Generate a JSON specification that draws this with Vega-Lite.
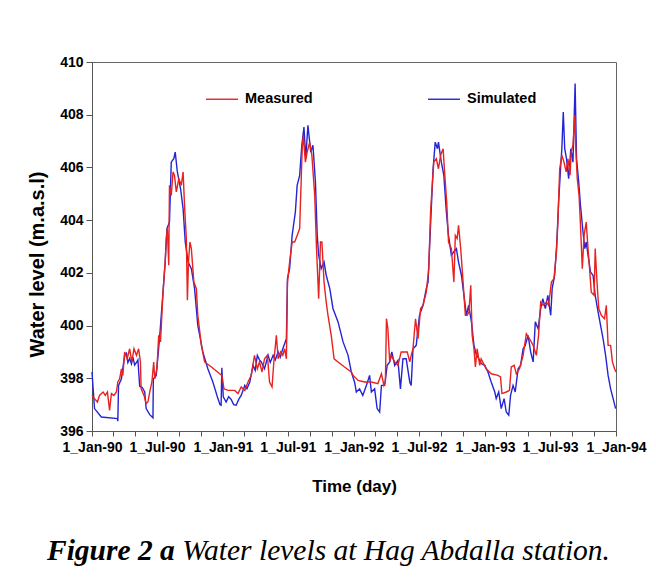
{
  "$schema": "https://vega.github.io/schema/vega-lite/v6.json",
  "autosize": {"type": "none"},
  "width": 524,
  "height": 369,
  "padding": {"left": 92, "top": 62, "right": 40, "bottom": 150},
  "background": "white",
  "config": {
    "view": {"stroke": "#666666", "strokeWidth": 1},
    "font": "Liberation Sans"
  },
  "title": {
    "text": "Figure 2 a",
    "subtitle": "\u200b\u00a0\u00a0\u00a0\u00a0\u00a0\u00a0\u00a0\u00a0\u00a0\u00a0\u00a0\u00a0\u00a0\u00a0\u00a0\u00a0\u00a0\u00a0\u200aWater levels at Hag Abdalla station.",
    "orient": "bottom",
    "anchor": "start",
    "frame": "group",
    "dx": -45,
    "offset": 43,
    "font": "Liberation Serif",
    "fontSize": 29.5,
    "fontStyle": "italic",
    "fontWeight": "bold",
    "color": "black",
    "subtitleFont": "Liberation Serif",
    "subtitleFontSize": 29.5,
    "subtitleFontStyle": "italic",
    "subtitleFontWeight": "normal",
    "subtitleColor": "black",
    "subtitlePadding": -29.5
  },
  "data": {"values": [
    {"series":"Simulated","day":0,"level":398.24},{"series":"Simulated","day":7,"level":396.85},{"series":"Simulated","day":26,"level":396.53},{"series":"Simulated","day":71,"level":396.47},{"series":"Simulated","day":72,"level":396.37},{"series":"Simulated","day":74,"level":397.73},{"series":"Simulated","day":82,"level":397.98},{"series":"Simulated","day":91,"level":398.87},{"series":"Simulated","day":96,"level":398.95},{"series":"Simulated","day":100,"level":398.6},{"series":"Simulated","day":105,"level":398.75},{"series":"Simulated","day":110,"level":398.55},{"series":"Simulated","day":114,"level":398.8},{"series":"Simulated","day":119,"level":398.5},{"series":"Simulated","day":124,"level":398.6},{"series":"Simulated","day":128,"level":398.7},{"series":"Simulated","day":133,"level":397.7},{"series":"Simulated","day":140,"level":397.65},{"series":"Simulated","day":147,"level":397.48},{"series":"Simulated","day":151,"level":396.85},{"series":"Simulated","day":161,"level":396.62},{"series":"Simulated","day":170,"level":396.5},{"series":"Simulated","day":171,"level":397.98},{"series":"Simulated","day":179,"level":398.1},{"series":"Simulated","day":189,"level":399.63},{"series":"Simulated","day":198,"level":401.27},{"series":"Simulated","day":204,"level":402.4},{"series":"Simulated","day":209,"level":403.68},{"series":"Simulated","day":216,"level":403.93},{"series":"Simulated","day":221,"level":406.2},{"series":"Simulated","day":228,"level":406.33},{"series":"Simulated","day":232,"level":406.58},{"series":"Simulated","day":238,"level":405.83},{"series":"Simulated","day":247,"level":405.19},{"series":"Simulated","day":254,"level":404.43},{"series":"Simulated","day":260,"level":403.17},{"series":"Simulated","day":268,"level":402.41},{"series":"Simulated","day":277,"level":402.16},{"series":"Simulated","day":286,"level":401.4},{"series":"Simulated","day":295,"level":400.01},{"series":"Simulated","day":309,"level":399.0},{"series":"Simulated","day":323,"level":398.36},{"series":"Simulated","day":337,"level":397.86},{"series":"Simulated","day":351,"level":397.23},{"series":"Simulated","day":357,"level":397.0},{"series":"Simulated","day":360,"level":396.98},{"series":"Simulated","day":362,"level":398.4},{"series":"Simulated","day":366,"level":397.3},{"series":"Simulated","day":374,"level":397.1},{"series":"Simulated","day":381,"level":397.3},{"series":"Simulated","day":388,"level":397.2},{"series":"Simulated","day":395,"level":397.0},{"series":"Simulated","day":402,"level":396.98},{"series":"Simulated","day":409,"level":397.2},{"series":"Simulated","day":416,"level":397.35},{"series":"Simulated","day":426,"level":397.73},{"series":"Simulated","day":432,"level":397.6},{"series":"Simulated","day":440,"level":397.86},{"series":"Simulated","day":449,"level":398.49},{"series":"Simulated","day":455,"level":398.3},{"series":"Simulated","day":461,"level":398.87},{"series":"Simulated","day":467,"level":398.7},{"series":"Simulated","day":472,"level":398.62},{"series":"Simulated","day":481,"level":398.36},{"series":"Simulated","day":491,"level":398.87},{"series":"Simulated","day":497,"level":398.6},{"series":"Simulated","day":505,"level":398.87},{"series":"Simulated","day":511,"level":398.7},{"series":"Simulated","day":519,"level":399.0},{"series":"Simulated","day":525,"level":398.8},{"series":"Simulated","day":532,"level":399.12},{"series":"Simulated","day":542,"level":399.5},{"series":"Simulated","day":545,"level":401.78},{"series":"Simulated","day":551,"level":402.16},{"series":"Simulated","day":558,"level":403.42},{"series":"Simulated","day":567,"level":404.31},{"series":"Simulated","day":572,"level":405.32},{"series":"Simulated","day":579,"level":405.7},{"series":"Simulated","day":585,"level":406.84},{"series":"Simulated","day":591,"level":407.53},{"series":"Simulated","day":596,"level":406.33},{"series":"Simulated","day":602,"level":407.6},{"series":"Simulated","day":610,"level":406.58},{"series":"Simulated","day":616,"level":406.84},{"series":"Simulated","day":623,"level":405.45},{"series":"Simulated","day":628,"level":403.42},{"series":"Simulated","day":632,"level":402.67},{"series":"Simulated","day":639,"level":402.16},{"series":"Simulated","day":647,"level":402.41},{"series":"Simulated","day":653,"level":401.91},{"series":"Simulated","day":663,"level":401.4},{"series":"Simulated","day":672,"level":400.64},{"series":"Simulated","day":686,"level":400.14},{"series":"Simulated","day":700,"level":399.38},{"series":"Simulated","day":714,"level":398.87},{"series":"Simulated","day":723,"level":398.24},{"series":"Simulated","day":732,"level":397.86},{"series":"Simulated","day":737,"level":397.48},{"series":"Simulated","day":746,"level":397.6},{"series":"Simulated","day":755,"level":397.35},{"series":"Simulated","day":765,"level":397.73},{"series":"Simulated","day":774,"level":398.11},{"series":"Simulated","day":779,"level":397.48},{"series":"Simulated","day":788,"level":397.6},{"series":"Simulated","day":795,"level":396.85},{"series":"Simulated","day":802,"level":396.72},{"series":"Simulated","day":807,"level":397.73},{"series":"Simulated","day":816,"level":397.73},{"series":"Simulated","day":823,"level":398.49},{"series":"Simulated","day":830,"level":398.62},{"series":"Simulated","day":836,"level":399.0},{"series":"Simulated","day":844,"level":398.49},{"series":"Simulated","day":853,"level":398.68},{"series":"Simulated","day":860,"level":397.6},{"series":"Simulated","day":867,"level":398.74},{"series":"Simulated","day":876,"level":398.74},{"series":"Simulated","day":886,"level":397.86},{"series":"Simulated","day":890,"level":397.73},{"series":"Simulated","day":895,"level":399.12},{"series":"Simulated","day":904,"level":399.25},{"series":"Simulated","day":913,"level":400.39},{"series":"Simulated","day":923,"level":400.77},{"series":"Simulated","day":932,"level":401.4},{"series":"Simulated","day":937,"level":401.65},{"series":"Simulated","day":941,"level":402.92},{"series":"Simulated","day":946,"level":404.43},{"series":"Simulated","day":951,"level":405.95},{"series":"Simulated","day":957,"level":406.96},{"series":"Simulated","day":963,"level":406.71},{"series":"Simulated","day":966,"level":406.96},{"series":"Simulated","day":974,"level":406.2},{"series":"Simulated","day":981,"level":405.7},{"series":"Simulated","day":988,"level":404.31},{"series":"Simulated","day":994,"level":403.42},{"series":"Simulated","day":1002,"level":402.67},{"series":"Simulated","day":1009,"level":402.8},{"series":"Simulated","day":1016,"level":402.92},{"series":"Simulated","day":1022,"level":402.41},{"series":"Simulated","day":1030,"level":401.91},{"series":"Simulated","day":1037,"level":401.15},{"series":"Simulated","day":1044,"level":400.39},{"series":"Simulated","day":1050,"level":400.77},{"series":"Simulated","day":1058,"level":400.14},{"series":"Simulated","day":1065,"level":399.25},{"series":"Simulated","day":1072,"level":398.87},{"series":"Simulated","day":1076,"level":398.8},{"series":"Simulated","day":1086,"level":398.55},{"series":"Simulated","day":1095,"level":398.49},{"series":"Simulated","day":1104,"level":398.24},{"series":"Simulated","day":1113,"level":397.86},{"series":"Simulated","day":1123,"level":397.48},{"series":"Simulated","day":1127,"level":397.23},{"series":"Simulated","day":1134,"level":397.48},{"series":"Simulated","day":1141,"level":396.85},{"series":"Simulated","day":1149,"level":397.23},{"series":"Simulated","day":1155,"level":396.72},{"series":"Simulated","day":1162,"level":396.6},{"series":"Simulated","day":1167,"level":397.35},{"series":"Simulated","day":1174,"level":397.73},{"series":"Simulated","day":1180,"level":397.48},{"series":"Simulated","day":1188,"level":398.36},{"series":"Simulated","day":1195,"level":398.49},{"series":"Simulated","day":1202,"level":399.12},{"series":"Simulated","day":1208,"level":399.25},{"series":"Simulated","day":1216,"level":399.63},{"series":"Simulated","day":1223,"level":399.0},{"series":"Simulated","day":1230,"level":398.62},{"series":"Simulated","day":1236,"level":400.14},{"series":"Simulated","day":1244,"level":399.88},{"series":"Simulated","day":1251,"level":400.64},{"series":"Simulated","day":1257,"level":401.02},{"series":"Simulated","day":1264,"level":400.64},{"series":"Simulated","day":1271,"level":401.15},{"series":"Simulated","day":1279,"level":400.39},{"series":"Simulated","day":1283,"level":401.4},{"series":"Simulated","day":1290,"level":401.91},{"series":"Simulated","day":1296,"level":403.17},{"series":"Simulated","day":1301,"level":404.69},{"series":"Simulated","day":1307,"level":406.08},{"series":"Simulated","day":1310,"level":406.71},{"series":"Simulated","day":1314,"level":408.1},{"series":"Simulated","day":1318,"level":406.71},{"series":"Simulated","day":1323,"level":406.33},{"series":"Simulated","day":1329,"level":405.57},{"series":"Simulated","day":1335,"level":406.71},{"series":"Simulated","day":1341,"level":406.2},{"series":"Simulated","day":1347,"level":409.18},{"series":"Simulated","day":1351,"level":406.33},{"series":"Simulated","day":1357,"level":405.45},{"series":"Simulated","day":1362,"level":404.56},{"series":"Simulated","day":1369,"level":403.55},{"series":"Simulated","day":1374,"level":402.92},{"series":"Simulated","day":1378,"level":403.17},{"series":"Simulated","day":1383,"level":402.67},{"series":"Simulated","day":1390,"level":402.03},{"series":"Simulated","day":1397,"level":401.91},{"series":"Simulated","day":1403,"level":401.15},{"series":"Simulated","day":1411,"level":400.52},{"series":"Simulated","day":1418,"level":400.01},{"series":"Simulated","day":1425,"level":399.5},{"series":"Simulated","day":1432,"level":398.87},{"series":"Simulated","day":1439,"level":398.11},{"series":"Simulated","day":1446,"level":397.6},{"series":"Simulated","day":1453,"level":397.23},{"series":"Simulated","day":1460,"level":396.85},
    {"series":"Measured","day":0,"level":397.35},{"series":"Measured","day":7,"level":397.23},{"series":"Measured","day":15,"level":397.1},{"series":"Measured","day":21,"level":397.35},{"series":"Measured","day":31,"level":397.48},{"series":"Measured","day":37,"level":397.35},{"series":"Measured","day":43,"level":397.48},{"series":"Measured","day":49,"level":396.78},{"series":"Measured","day":54,"level":397.42},{"series":"Measured","day":61,"level":397.35},{"series":"Measured","day":68,"level":397.48},{"series":"Measured","day":72,"level":397.86},{"series":"Measured","day":77,"level":397.98},{"series":"Measured","day":82,"level":398.36},{"series":"Measured","day":86,"level":398.11},{"series":"Measured","day":91,"level":399.0},{"series":"Measured","day":98,"level":398.74},{"series":"Measured","day":105,"level":399.12},{"series":"Measured","day":111,"level":398.62},{"series":"Measured","day":117,"level":399.12},{"series":"Measured","day":124,"level":398.87},{"series":"Measured","day":130,"level":399.12},{"series":"Measured","day":135,"level":398.62},{"series":"Measured","day":137,"level":397.6},{"series":"Measured","day":145,"level":397.35},{"series":"Measured","day":151,"level":397.04},{"series":"Measured","day":156,"level":397.1},{"series":"Measured","day":161,"level":397.48},{"series":"Measured","day":167,"level":397.86},{"series":"Measured","day":172,"level":398.62},{"series":"Measured","day":175,"level":397.98},{"series":"Measured","day":181,"level":398.36},{"series":"Measured","day":186,"level":399.63},{"series":"Measured","day":191,"level":399.38},{"series":"Measured","day":198,"level":401.27},{"series":"Measured","day":204,"level":402.41},{"series":"Measured","day":207,"level":403.3},{"series":"Measured","day":210,"level":403.68},{"series":"Measured","day":214,"level":402.29},{"series":"Measured","day":216,"level":405.32},{"series":"Measured","day":221,"level":404.94},{"series":"Measured","day":226,"level":405.83},{"series":"Measured","day":230,"level":405.7},{"series":"Measured","day":235,"level":405.07},{"series":"Measured","day":242,"level":405.57},{"series":"Measured","day":249,"level":405.32},{"series":"Measured","day":254,"level":405.83},{"series":"Measured","day":258,"level":404.56},{"series":"Measured","day":263,"level":403.3},{"series":"Measured","day":266,"level":400.96},{"series":"Measured","day":269,"level":402.41},{"series":"Measured","day":273,"level":403.17},{"series":"Measured","day":277,"level":402.92},{"series":"Measured","day":284,"level":401.65},{"series":"Measured","day":291,"level":401.4},{"series":"Measured","day":295,"level":400.39},{"series":"Measured","day":305,"level":399.25},{"series":"Measured","day":314,"level":398.62},{"series":"Measured","day":333,"level":398.43},{"series":"Measured","day":356,"level":398.17},{"series":"Measured","day":362,"level":398.11},{"series":"Measured","day":368,"level":397.6},{"series":"Measured","day":379,"level":397.54},{"series":"Measured","day":398,"level":397.54},{"series":"Measured","day":407,"level":397.42},{"series":"Measured","day":416,"level":397.67},{"series":"Measured","day":426,"level":397.54},{"series":"Measured","day":435,"level":397.86},{"series":"Measured","day":444,"level":398.11},{"series":"Measured","day":453,"level":398.87},{"series":"Measured","day":461,"level":398.36},{"series":"Measured","day":467,"level":398.62},{"series":"Measured","day":474,"level":398.24},{"series":"Measured","day":481,"level":398.74},{"series":"Measured","day":489,"level":398.87},{"series":"Measured","day":495,"level":397.86},{"series":"Measured","day":502,"level":397.67},{"series":"Measured","day":507,"level":398.62},{"series":"Measured","day":514,"level":399.63},{"series":"Measured","day":519,"level":398.74},{"series":"Measured","day":526,"level":399.0},{"series":"Measured","day":532,"level":398.87},{"series":"Measured","day":537,"level":399.12},{"series":"Measured","day":542,"level":398.74},{"series":"Measured","day":545,"level":401.65},{"series":"Measured","day":551,"level":402.41},{"series":"Measured","day":558,"level":403.17},{"series":"Measured","day":565,"level":403.17},{"series":"Measured","day":572,"level":403.42},{"series":"Measured","day":579,"level":403.68},{"series":"Measured","day":586,"level":406.71},{"series":"Measured","day":589,"level":407.22},{"series":"Measured","day":595,"level":406.2},{"series":"Measured","day":600,"level":406.59},{"series":"Measured","day":607,"level":406.96},{"series":"Measured","day":613,"level":406.46},{"series":"Measured","day":621,"level":404.94},{"series":"Measured","day":626,"level":402.92},{"series":"Measured","day":632,"level":401.02},{"series":"Measured","day":637,"level":403.17},{"series":"Measured","day":641,"level":403.17},{"series":"Measured","day":647,"level":401.65},{"series":"Measured","day":653,"level":400.89},{"series":"Measured","day":658,"level":400.39},{"series":"Measured","day":667,"level":399.63},{"series":"Measured","day":675,"level":398.74},{"series":"Measured","day":686,"level":398.62},{"series":"Measured","day":704,"level":398.43},{"series":"Measured","day":723,"level":398.24},{"series":"Measured","day":728,"level":398.11},{"series":"Measured","day":742,"level":397.92},{"series":"Measured","day":760,"level":397.86},{"series":"Measured","day":779,"level":397.86},{"series":"Measured","day":797,"level":397.8},{"series":"Measured","day":807,"level":398.17},{"series":"Measured","day":814,"level":397.73},{"series":"Measured","day":818,"level":397.86},{"series":"Measured","day":821,"level":400.26},{"series":"Measured","day":825,"level":399.88},{"series":"Measured","day":830,"level":398.62},{"series":"Measured","day":834,"level":398.87},{"series":"Measured","day":844,"level":398.62},{"series":"Measured","day":853,"level":398.49},{"series":"Measured","day":862,"level":399.0},{"series":"Measured","day":872,"level":399.0},{"series":"Measured","day":879,"level":399.0},{"series":"Measured","day":886,"level":398.62},{"series":"Measured","day":890,"level":398.87},{"series":"Measured","day":895,"level":399.12},{"series":"Measured","day":902,"level":400.26},{"series":"Measured","day":909,"level":399.5},{"series":"Measured","day":916,"level":400.64},{"series":"Measured","day":923,"level":400.77},{"series":"Measured","day":932,"level":401.27},{"series":"Measured","day":939,"level":402.16},{"series":"Measured","day":944,"level":404.31},{"series":"Measured","day":948,"level":405.19},{"series":"Measured","day":953,"level":406.2},{"series":"Measured","day":960,"level":406.33},{"series":"Measured","day":966,"level":405.95},{"series":"Measured","day":972,"level":406.46},{"series":"Measured","day":979,"level":406.71},{"series":"Measured","day":983,"level":405.83},{"series":"Measured","day":989,"level":404.69},{"series":"Measured","day":994,"level":403.17},{"series":"Measured","day":1002,"level":402.92},{"series":"Measured","day":1009,"level":401.65},{"series":"Measured","day":1013,"level":403.42},{"series":"Measured","day":1018,"level":403.3},{"series":"Measured","day":1022,"level":403.8},{"series":"Measured","day":1028,"level":402.92},{"series":"Measured","day":1034,"level":401.78},{"series":"Measured","day":1041,"level":400.39},{"series":"Measured","day":1046,"level":400.39},{"series":"Measured","day":1051,"level":400.51},{"series":"Measured","day":1056,"level":401.53},{"series":"Measured","day":1060,"level":399.63},{"series":"Measured","day":1065,"level":399.12},{"series":"Measured","day":1069,"level":398.43},{"series":"Measured","day":1074,"level":399.12},{"series":"Measured","day":1081,"level":398.49},{"series":"Measured","day":1085,"level":398.74},{"series":"Measured","day":1099,"level":398.36},{"series":"Measured","day":1113,"level":398.17},{"series":"Measured","day":1132,"level":398.11},{"series":"Measured","day":1139,"level":398.05},{"series":"Measured","day":1143,"level":397.42},{"series":"Measured","day":1155,"level":397.48},{"series":"Measured","day":1164,"level":397.54},{"series":"Measured","day":1169,"level":398.43},{"series":"Measured","day":1177,"level":398.49},{"series":"Measured","day":1183,"level":398.17},{"series":"Measured","day":1192,"level":398.36},{"series":"Measured","day":1202,"level":398.87},{"series":"Measured","day":1211,"level":399.69},{"series":"Measured","day":1220,"level":399.5},{"series":"Measured","day":1230,"level":399.25},{"series":"Measured","day":1239,"level":398.87},{"series":"Measured","day":1245,"level":399.63},{"series":"Measured","day":1251,"level":400.89},{"series":"Measured","day":1258,"level":400.77},{"series":"Measured","day":1267,"level":400.89},{"series":"Measured","day":1273,"level":400.77},{"series":"Measured","day":1281,"level":401.65},{"series":"Measured","day":1288,"level":401.78},{"series":"Measured","day":1295,"level":402.79},{"series":"Measured","day":1299,"level":403.93},{"series":"Measured","day":1304,"level":405.95},{"series":"Measured","day":1310,"level":406.46},{"series":"Measured","day":1316,"level":406.2},{"series":"Measured","day":1322,"level":405.83},{"series":"Measured","day":1327,"level":406.33},{"series":"Measured","day":1333,"level":405.7},{"series":"Measured","day":1336,"level":406.59},{"series":"Measured","day":1341,"level":406.84},{"series":"Measured","day":1346,"level":407.98},{"series":"Measured","day":1348,"level":406.96},{"series":"Measured","day":1353,"level":405.57},{"series":"Measured","day":1358,"level":404.94},{"series":"Measured","day":1362,"level":403.8},{"series":"Measured","day":1367,"level":402.16},{"series":"Measured","day":1372,"level":403.42},{"series":"Measured","day":1378,"level":403.93},{"series":"Measured","day":1383,"level":402.92},{"series":"Measured","day":1388,"level":402.03},{"series":"Measured","day":1392,"level":401.27},{"series":"Measured","day":1400,"level":401.15},{"series":"Measured","day":1403,"level":402.92},{"series":"Measured","day":1408,"level":401.65},{"series":"Measured","day":1413,"level":400.64},{"series":"Measured","day":1420,"level":400.39},{"series":"Measured","day":1429,"level":400.26},{"series":"Measured","day":1434,"level":400.77},{"series":"Measured","day":1439,"level":399.25},{"series":"Measured","day":1446,"level":399.25},{"series":"Measured","day":1451,"level":398.62},{"series":"Measured","day":1457,"level":398.36},{"series":"Measured","day":1461,"level":398.24}
  ]},
  "mark": {"type": "line", "strokeWidth": 1.4, "interpolate": "linear"},
  "encoding": {
    "x": {
      "field": "day",
      "type": "quantitative",
      "scale": {"domain": [0, 1461], "nice": false, "zero": false},
      "axis": {
        "title": "Time (day)",
        "values": [0, 59, 120, 181, 243, 304, 365, 424, 485, 546, 608, 669, 730, 790, 851, 912, 974, 1035, 1096, 1155, 1216, 1277, 1339, 1400, 1461],
        "labelExpr": "month(datetime(1990,0,1+datum.value)) % 6 == 0 ? timeFormat(datetime(1990,0,1+datum.value), '%-d_%b-%y') : ''",
        "grid": false,
        "tickSize": 5,
        "tickColor": "#555555",
        "domainColor": "#555555",
        "labelFont": "Liberation Sans",
        "labelFontSize": 14,
        "labelFontWeight": "bold",
        "labelColor": "black",
        "labelPadding": 4,
        "labelOverlap": false,
        "labelFlush": false,
        "titleFont": "Liberation Sans",
        "titleFontSize": 17,
        "titleFontWeight": "bold",
        "titleColor": "black",
        "titlePadding": 24
      }
    },
    "y": {
      "field": "level",
      "type": "quantitative",
      "scale": {"domain": [396, 410], "nice": false, "zero": false},
      "axis": {
        "title": "Water level (m.a.s.l)",
        "values": [396, 398, 400, 402, 404, 406, 408, 410],
        "grid": false,
        "tickSize": 6,
        "tickColor": "#555555",
        "domainColor": "#555555",
        "labelFont": "Liberation Sans",
        "labelFontSize": 14,
        "labelFontWeight": "bold",
        "labelColor": "black",
        "labelPadding": 3,
        "labelFlush": false,
        "titleFont": "Liberation Sans",
        "titleFontSize": 20,
        "titleFontWeight": "bold",
        "titleColor": "black",
        "titlePadding": 12,
        "titleY": 202
      }
    },
    "color": {
      "field": "series",
      "type": "nominal",
      "scale": {"domain": ["Measured", "Simulated"], "range": ["#e8221f", "#2424d6"]},
      "legend": {
        "title": null,
        "orient": "none",
        "direction": "horizontal",
        "legendX": 113,
        "legendY": 20,
        "symbolType": "stroke",
        "symbolSize": 1024,
        "symbolStrokeWidth": 1.4,
        "labelFont": "Liberation Sans",
        "labelFontSize": 14.5,
        "labelFontWeight": "bold",
        "labelColor": "black",
        "labelOffset": 6,
        "columnPadding": 112
      }
    }
  }
}
